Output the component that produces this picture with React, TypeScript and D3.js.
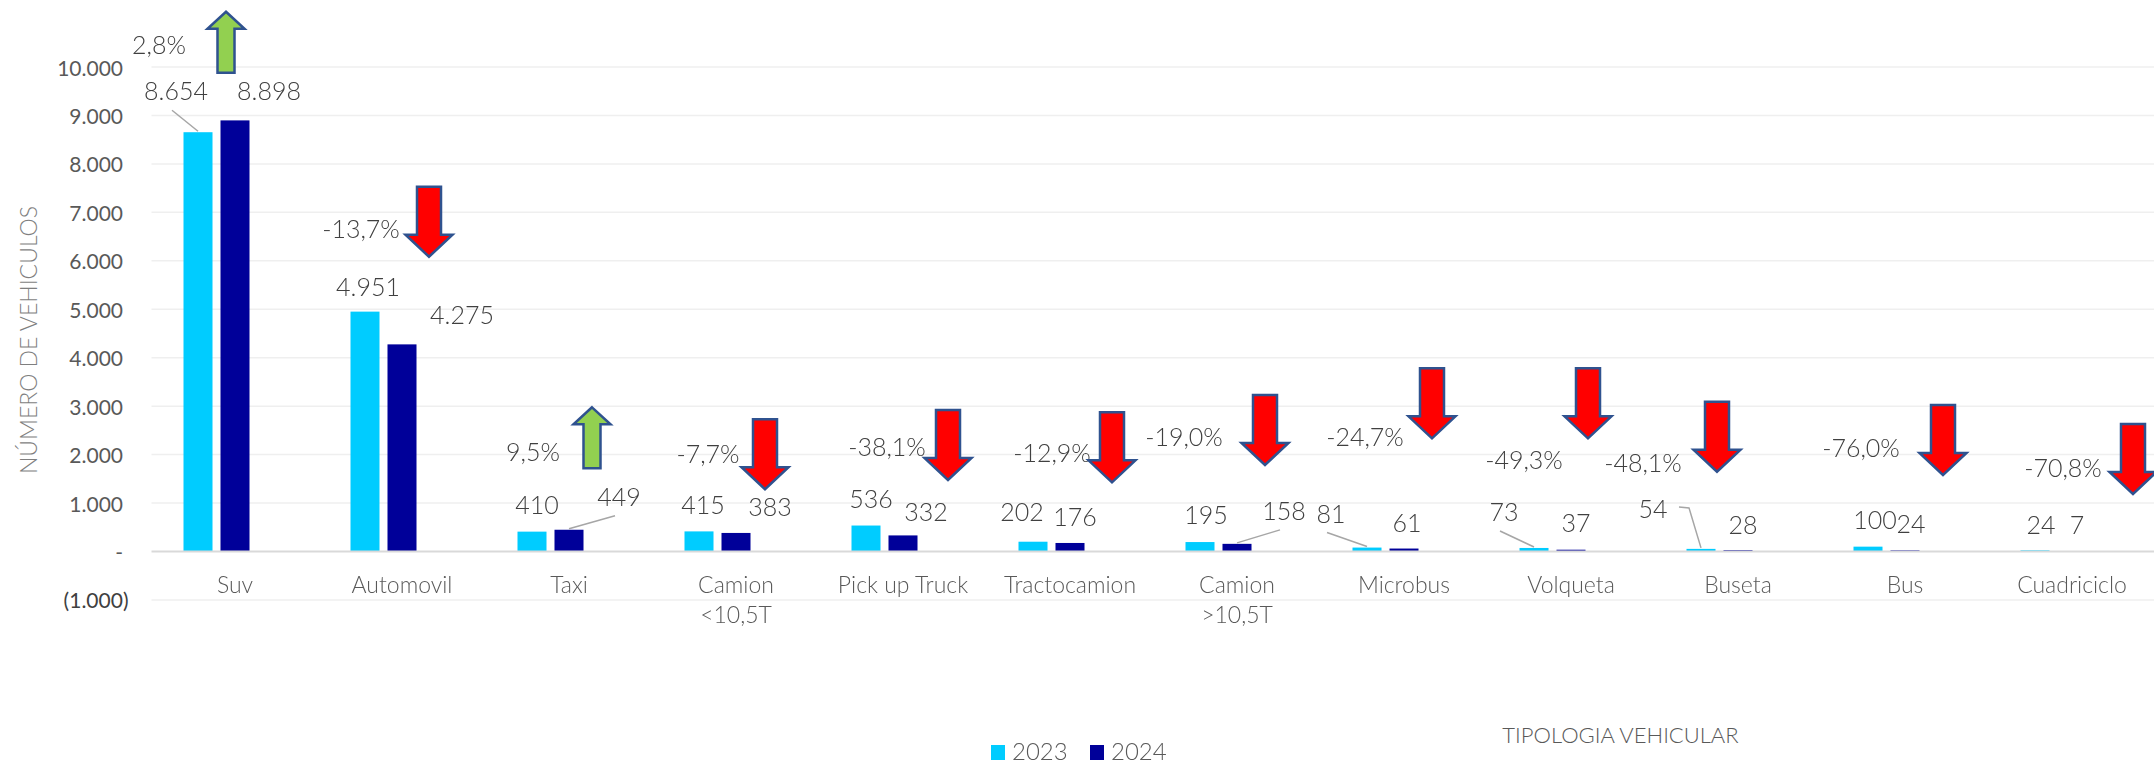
import * as d3 from "d3";

// ---- data ----
const categories = [
  "Suv",
  "Automovil",
  "Taxi",
  "Camion <10,5T",
  "Pick up Truck",
  "Tractocamion",
  "Camion >10,5T",
  "Microbus",
  "Volqueta",
  "Buseta",
  "Bus",
  "Cuadriciclo",
];
const values2023 = [8654, 4951, 410, 415, 536, 202, 195, 81, 73, 54, 100, 24];
const values2024 = [8898, 4275, 449, 383, 332, 176, 158, 61, 37, 28, 24, 7];
const seriesNames = ["2023", "2024"];
const yTickValues = [-1000, 0, 1000, 2000, 3000, 4000, 5000, 6000, 7000, 8000, 9000, 10000];

// ---- annotation layout (labels/arrows were dragged by hand in the original) ----
// [dx, dy] px from bar top centre
const label2023Offset = [[-22, -42], [3, -26], [5, -28], [4, -27], [5, -28], [-11, -31], [6, -28], [-36, -35], [-30, -37], [-48, -41], [7, -28], [6, -26]];
const label2024Offset = [[34, -30], [60, -30], [50, -34], [34, -27], [23, -24], [5, -27], [47, -34], [3, -27], [5, -28], [5, -26], [6, -27], [5, -27]];
const leader2023 = ["line", "", "", "", "", "", "", "line", "line", "elbow", "", ""];
const leader2024 = ["", "", "line", "", "", "", "line", "", "", "", "", ""];
// % label: dx px from category centre, y in axis units
const pctDx = [-76, -41, -36, -28, -16, -18, -53, -39, -47, -95, -44, -9];
const pctAt = [10475, 6677, 2074, 2033, 2178, 2054, 2374, 2384, 1909, 1847, 2157, 1744];
// arrow: dx px from category centre, top end in axis units
const arrowDx = [-9, 27, 23, 29, 45, 42, 28, 28, 17, -21, 38, 61];
const arrowTop = [11141, 7529, 2976, 2729, 2921, 2873, 3230, 3781, 3781, 3092, 3024, 2632];

const W = 2154;
const H = 763;
const FONT = "Lato, 'Open Sans', sans-serif";
const colors = ["#00CCFF", "#000099"];

const locale = d3.formatLocale({
  decimal: ",",
  thousands: ".",
  grouping: [3],
  currency: ["", ""],
  minus: "-",
});
const fmtNum = locale.format(",.0f");
const fmtPct = locale.format(".1%");
const fmtTick = (v: number) => (v === 0 ? "-" : v < 0 ? `(${fmtNum(-v)})` : fmtNum(v));

function arrowPath(cx: number, yTop: number, up: boolean) {
  const len = up ? 61 : 70;
  const sw = up ? 17 : 24;
  const hw = up ? 37 : 47;
  const hl = up ? 17 : 22;
  const pts: [number, number][] = up
    ? [
        [cx, yTop],
        [cx + hw / 2, yTop + hl],
        [cx + sw / 2, yTop + hl],
        [cx + sw / 2, yTop + len],
        [cx - sw / 2, yTop + len],
        [cx - sw / 2, yTop + hl],
        [cx - hw / 2, yTop + hl],
      ]
    : [
        [cx - sw / 2, yTop],
        [cx + sw / 2, yTop],
        [cx + sw / 2, yTop + len - hl],
        [cx + hw / 2, yTop + len - hl],
        [cx, yTop + len],
        [cx - hw / 2, yTop + len - hl],
        [cx - sw / 2, yTop + len - hl],
      ];
  return d3.line()(pts) + "Z";
}

export default function App() {
  const x0 = d3.scaleBand<string>().domain(categories).range([151.5, 2155.5]).padding(0);
  const x1 = d3
    .scaleBand<string>()
    .domain([...seriesNames, "pct"])
    .range([32, 135])
    .paddingInner(0.216);
  const y = d3.scaleLinear().domain([-1000, 10000]).range([599.95, 67]);

  const series = [values2023, values2024];
  const offsets = [label2023Offset, label2024Offset];
  const leaders = [leader2023, leader2024];

  return (
    <svg
      width={W}
      height={H}
      style={{ position: "fixed", left: 0, top: 0, background: "#fff", overflow: "visible" }}
      fontFamily={FONT}
    >
      {/* gridlines */}
      {yTickValues
        .filter((v) => v !== 0)
        .map((v) => (
          <line key={v} x1={151.5} x2={W} y1={y(v)} y2={y(v)} stroke="#efefef" strokeWidth={1.5} />
        ))}
      {/* y tick labels */}
      {yTickValues.map((v) => (
        <text
          key={v}
          x={v < 0 ? 128.5 : 123}
          y={y(v)}
          textAnchor="end"
          dominantBaseline="central"
          fontSize={21}
          fill={v < 0 ? "#404040" : "#595959"}
        >
          {fmtTick(v)}
        </text>
      ))}

      {/* bars */}
      {categories.map((c, i) => (
        <g key={c} transform={`translate(${x0(c)},0)`}>
          {seriesNames.map((s, k) => (
            <rect
              key={s}
              x={x1(s)}
              width={x1.bandwidth()}
              y={y(series[k][i])}
              height={y(0) - y(series[k][i])}
              fill={colors[k]}
            />
          ))}
        </g>
      ))}

      {/* axis baseline */}
      <line x1={151.5} x2={W} y1={y(0)} y2={y(0)} stroke="#d9d9d9" strokeWidth={2} />

      {/* data labels with leader lines */}
      {categories.map((c, i) =>
        seriesNames.map((s, k) => {
          const bx = (x0(c) ?? 0) + (x1(s) ?? 0) + x1.bandwidth() / 2;
          const by = y(series[k][i]);
          const [dx, dy] = offsets[k][i];
          const lx = bx + dx;
          const ly = by + dy;
          const kind = leaders[k][i];
          return (
            <g key={c + s}>
              {kind === "line" && (
                <line x1={lx - 4} y1={ly + 20} x2={bx} y2={by - 1} stroke="#a6a6a6" strokeWidth={1.5} />
              )}
              {kind === "elbow" && (
                <polyline
                  points={`${lx + 26},${ly - 1} ${lx + 36},${ly} ${bx},${by - 1}`}
                  fill="none"
                  stroke="#a6a6a6"
                  strokeWidth={1.5}
                />
              )}
              <text
                x={lx}
                y={ly}
                textAnchor="middle"
                dominantBaseline="central"
                fontSize={25}
                fontWeight={300}
                fill="#404040"
              >
                {fmtNum(series[k][i])}
              </text>
            </g>
          );
        })
      )}

      {/* change % and arrows */}
      {categories.map((c, i) => {
        const cx = (x0(c) ?? 0) + x0.bandwidth() / 2;
        const change = values2024[i] / values2023[i] - 1;
        const up = change >= 0;
        return (
          <g key={"p" + c}>
            <text
              x={cx + pctDx[i]}
              y={y(pctAt[i])}
              textAnchor="middle"
              dominantBaseline="central"
              fontSize={25}
              fontWeight={300}
              fill="#404040"
            >
              {fmtPct(change)}
            </text>
            <path
              d={arrowPath(cx + arrowDx[i], y(arrowTop[i]), up)}
              fill={up ? "#92D050" : "#FF0000"}
              stroke="#2F528F"
              strokeWidth={2.5}
              strokeLinejoin="miter"
            />
          </g>
        );
      })}

      {/* category labels */}
      {categories.map((c) => {
        const cx = (x0(c) ?? 0) + x0.bandwidth() / 2;
        const lines = c.split(/ (?=[<>])/);
        return (
          <text key={"c" + c} x={cx} y={592.5} textAnchor="middle" fontSize={23} fontWeight={300} fill="#595959">
            {lines.map((t, j) => (
              <tspan key={j} x={cx} dy={j === 0 ? 0 : 30.5}>
                {t}
              </tspan>
            ))}
          </text>
        );
      })}

      {/* axis titles */}
      <text
        transform="translate(28,340) rotate(-90)"
        textAnchor="middle"
        dominantBaseline="central"
        fontSize={23}
        fontWeight={300}
        fill="#7f7f7f"
      >
        NÚMERO DE VEHICULOS
      </text>
      <text x={1620.5} y={742.5} textAnchor="middle" fontSize={22} fontWeight={300} fill="#595959">
        TIPOLOGIA VEHICULAR
      </text>

      {/* legend */}
      {seriesNames.map((s, k) => (
        <g key={"l" + s} transform={`translate(${991 + k * 99},0)`}>
          <rect x={0} y={745} width={14} height={15} fill={colors[k]} />
          <text x={21} y={760} fontSize={24} fontWeight={300} fill="#595959">
            {s}
          </text>
        </g>
      ))}
    </svg>
  );
}
